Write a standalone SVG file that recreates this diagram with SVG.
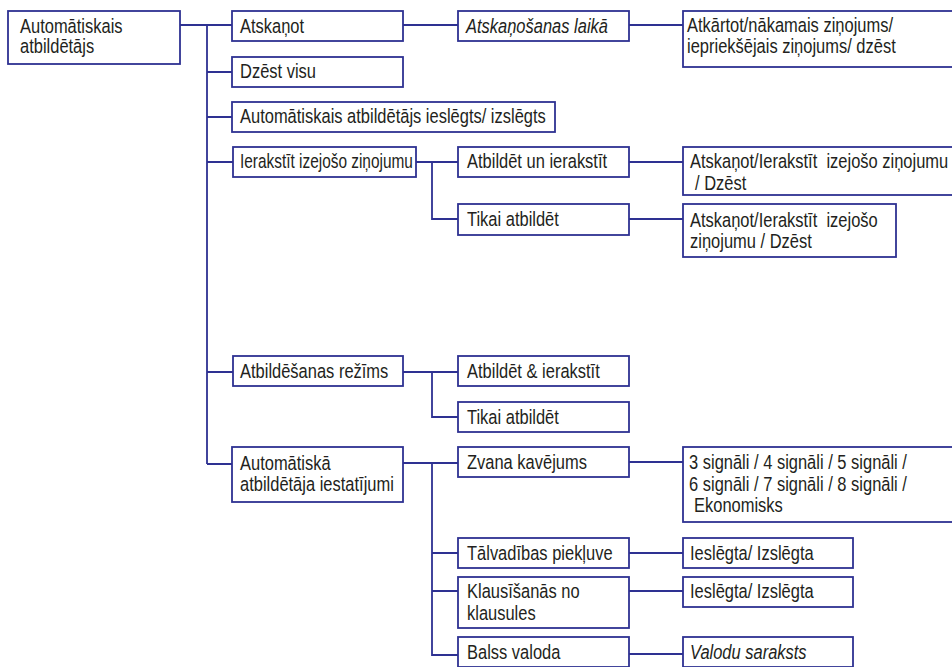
<svg xmlns="http://www.w3.org/2000/svg" width="952" height="667" viewBox="0 0 952 667">
<style>
rect.b{fill:#fff;stroke:#2e3192;stroke-width:1.8}
text{font-family:"Liberation Sans",Arial,sans-serif;font-size:19.5px;fill:#231f20}
text.i{font-style:italic}
#connectors path{fill:none;stroke:#2e3192;stroke-width:1.8}
</style>
<g id="connectors">
<path d="M180,25H232M207,25V464M207,72H232M207,117H232M207,162H233M207,372H233M207,464H232"/>
<path d="M403,25H458M629,25H683"/>
<path d="M416,162H458M432,162V219H458M629,162H683M629,219H683"/>
<path d="M403,372H458M432,372V417H458"/>
<path d="M403,463H458M432,463V655H458M432,553H458M432,591H458M629,462H683M629,553H683M629,591H683M629,654H683"/>
</g>
<g id="root"><rect class="b" x="8" y="11" width="172" height="53"/><text transform="translate(20,33) scale(0.845,1)">Automātiskais</text><text transform="translate(20,53) scale(0.845,1)">atbildētājs</text></g>
<g id="n1"><rect class="b" x="232" y="11" width="171" height="30"/><text transform="translate(240,33) scale(0.845,1)">Atskaņot</text></g>
<g id="n2"><rect class="b" x="458" y="11" width="171" height="30"/><text class="i" transform="translate(466,33) scale(0.845,1)">Atskaņošanas laikā</text></g>
<g id="n3"><rect class="b" x="683" y="11" width="290" height="56"/><text transform="translate(687,32) scale(0.845,1)">Atkārtot/nākamais ziņojums/</text><text transform="translate(687,53) scale(0.845,1)">iepriekšējais ziņojums/ dzēst</text></g>
<g id="n4"><rect class="b" x="232" y="57" width="171" height="30"/><text transform="translate(240,78) scale(0.845,1)">Dzēst visu</text></g>
<g id="n5"><rect class="b" x="232" y="102" width="323" height="30"/><text transform="translate(240,123) scale(0.845,1)">Automātiskais atbildētājs ieslēgts/ izslēgts</text></g>
<g id="n6"><rect class="b" x="233" y="147" width="183" height="30"/><text transform="translate(240,168) scale(0.79,1)">Ierakstīt izejošo ziņojumu</text></g>
<g id="n7"><rect class="b" x="458" y="147" width="171" height="30"/><text transform="translate(467,168) scale(0.845,1)">Atbildēt un ierakstīt</text></g>
<g id="n8"><rect class="b" x="683" y="147" width="290" height="48"/><text transform="translate(690,168) scale(0.845,1)" xml:space="preserve">Atskaņot/Ierakstīt  izejošo ziņojumu</text><text transform="translate(695,190) scale(0.845,1)">/ Dzēst</text></g>
<g id="n9"><rect class="b" x="458" y="204" width="171" height="31"/><text transform="translate(467,226) scale(0.845,1)">Tikai atbildēt</text></g>
<g id="n10"><rect class="b" x="683" y="204" width="213" height="53"/><text transform="translate(690,227) scale(0.845,1)" xml:space="preserve">Atskaņot/Ierakstīt  izejošo</text><text transform="translate(690,248) scale(0.845,1)">ziņojumu / Dzēst</text></g>
<g id="n11"><rect class="b" x="233" y="356" width="170" height="30"/><text transform="translate(240,378) scale(0.845,1)">Atbildēšanas režīms</text></g>
<g id="n12"><rect class="b" x="458" y="356" width="171" height="30"/><text transform="translate(467,378) scale(0.845,1)">Atbildēt &amp; ierakstīt</text></g>
<g id="n13"><rect class="b" x="458" y="402" width="171" height="30"/><text transform="translate(467,424) scale(0.845,1)">Tikai atbildēt</text></g>
<g id="n14"><rect class="b" x="232" y="447" width="171" height="55"/><text transform="translate(240,470) scale(0.845,1)">Automātiskā</text><text transform="translate(240,491) scale(0.845,1)">atbildētāja iestatījumi</text></g>
<g id="n15"><rect class="b" x="458" y="447" width="171" height="30"/><text transform="translate(467,469) scale(0.845,1)">Zvana kavējums</text></g>
<g id="n16"><rect class="b" x="683" y="447" width="290" height="75"/><text transform="translate(689,469) scale(0.845,1)">3 signāli / 4 signāli / 5 signāli /</text><text transform="translate(689,491) scale(0.845,1)">6 signāli / 7 signāli / 8 signāli /</text><text transform="translate(694,512) scale(0.845,1)">Ekonomisks</text></g>
<g id="n17"><rect class="b" x="458" y="538" width="171" height="30"/><text transform="translate(467,560) scale(0.845,1)">Tālvadības piekļuve</text></g>
<g id="n18"><rect class="b" x="683" y="538" width="170" height="30"/><text transform="translate(690,560) scale(0.845,1)">Ieslēgta/ Izslēgta</text></g>
<g id="n19"><rect class="b" x="458" y="577" width="171" height="51"/><text transform="translate(467,598) scale(0.845,1)">Klausīšanās no</text><text transform="translate(467,620) scale(0.845,1)">klausules</text></g>
<g id="n20"><rect class="b" x="683" y="577" width="170" height="30"/><text transform="translate(690,598) scale(0.845,1)">Ieslēgta/ Izslēgta</text></g>
<g id="n21"><rect class="b" x="458" y="637" width="171" height="30"/><text transform="translate(467,659) scale(0.845,1)">Balss valoda</text></g>
<g id="n22"><rect class="b" x="683" y="637" width="170" height="30"/><text class="i" transform="translate(690,659) scale(0.845,1)">Valodu saraksts</text></g>
</svg>
